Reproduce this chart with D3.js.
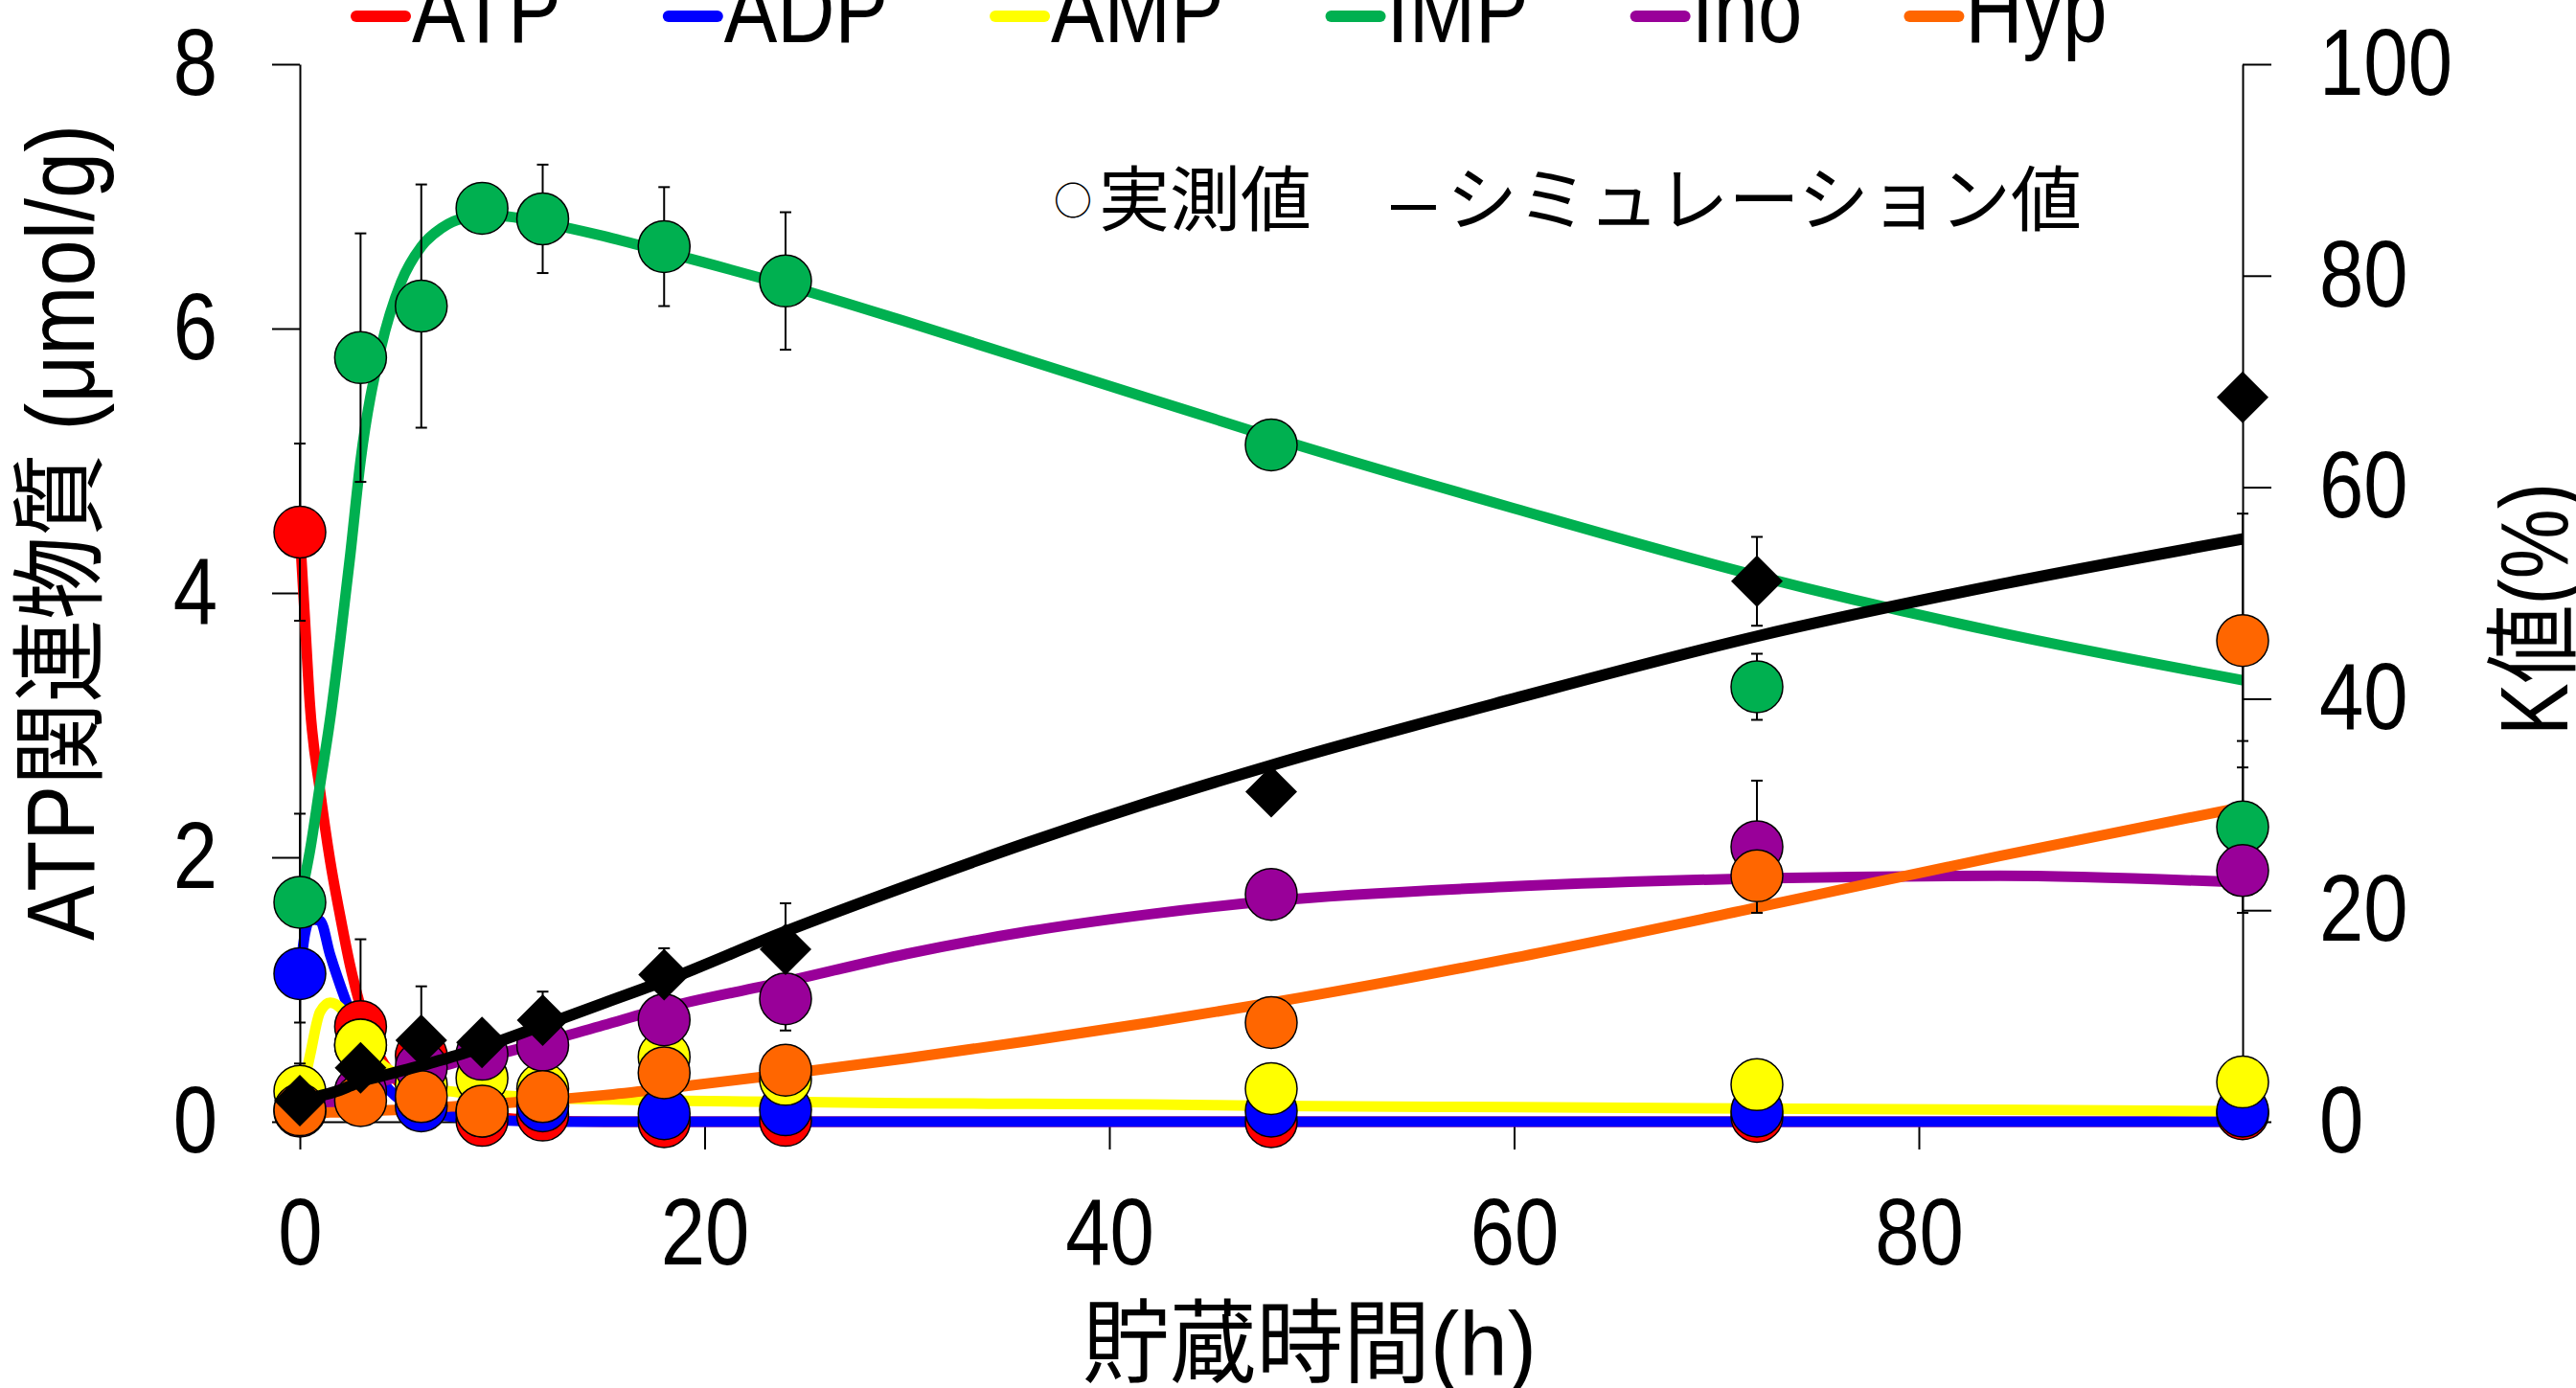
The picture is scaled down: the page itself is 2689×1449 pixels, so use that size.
<!DOCTYPE html>
<html><head><meta charset="utf-8">
<script src="https://cdn.jsdelivr.net/npm/d3@7"></script>
<style>
html,body{margin:0;padding:0;background:#fff;}
svg{display:block;background:#fff;}
</style></head><body>
<svg id="chart" width="2689" height="1449"></svg>
<script>
// ---------- data ----------
const seriesNames  = ["ATP","ADP","AMP","IMP","Ino","Hyp"];
const seriesColors = ["#FF0000","#0000FF","#FFFF00","#00B050","#990099","#FF6600"];

const measuredTimes = [0,3,6,9,12,18,24,48,72,96];
const atpMeasured = [4.46,0.72,0.50,0.01,0.05,0.00,0.01,0.00,0.04,0.06];
const adpMeasured = [1.12,0.58,0.12,0.08,0.12,0.06,0.09,0.08,0.08,0.08];
const ampMeasured = [0.23,0.58,0.28,0.33,0.25,0.49,0.32,0.25,0.28,0.30];
const impMeasured = [1.66,5.78,6.17,6.91,6.83,6.62,6.36,5.12,3.29,2.23];
const inoMeasured = [0.08,0.23,0.41,0.51,0.58,0.77,0.93,1.72,2.08,1.90];
const hypMeasured = [0.09,0.16,0.19,0.08,0.19,0.37,0.39,0.75,1.86,3.64];
const kMeasured   = [2.0,5.1,7.7,7.5,9.6,13.9,16.3,31.2,51.1,68.5];

const atpErr = [0.67,0.66,null,null,null,null,null,null,null,null];
const adpErr = [0.37,null,null,null,null,null,null,null,null,null];
const ampErr = [0.21,null,null,null,null,null,null,null,null,null];
const impErr = [0.67,0.94,0.92,null,0.41,0.45,0.52,null,0.25,0.65];
const inoErr = [null,null,null,null,null,null,0.24,null,0.50,null];
const hypErr = [null,null,null,null,null,null,null,null,null,0.96];
const kErr   = [null,null,5.1,null,2.7,2.5,4.35,null,4.2,null];

const simTimes = [0,0.25,0.5,1,1.5,2,2.5,3,4,5,6,7,8,10,12,15,18,24,30,36,42,48,60,72,84,96];
const atpSim = [4.46,3.8,3.15,2.5,1.97,1.55,1.17,0.87,0.48,0.28,0.16,0.10,0.06,0.03,0.01,0.0,0,0,0,0,0,0,0,0,0,0];
const adpSim = [1.12,1.42,1.53,1.52,1.26,1.03,0.82,0.62,0.32,0.16,0.08,0.05,0.03,0.01,0.0,0,0,0,0,0,0,0,0,0,0,0];
const ampSim = [0.23,0.33,0.50,0.83,0.90,0.86,0.74,0.62,0.44,0.34,0.28,0.24,0.22,0.20,0.18,0.17,0.16,0.15,0.14,0.135,0.13,0.12,0.11,0.10,0.09,0.08];
const impSim = [1.66,1.85,2.05,2.55,3.05,3.65,4.3,5.0,5.85,6.35,6.62,6.76,6.83,6.85,6.80,6.70,6.58,6.33,6.05,5.76,5.47,5.18,4.64,4.13,3.70,3.34];
const inoSim = [0.08,0.09,0.10,0.12,0.14,0.17,0.20,0.24,0.30,0.35,0.39,0.42,0.46,0.52,0.60,0.73,0.86,1.06,1.27,1.44,1.57,1.67,1.78,1.84,1.86,1.81];
const hypSim = [0.06,0.06,0.06,0.065,0.07,0.07,0.075,0.08,0.085,0.09,0.10,0.11,0.12,0.14,0.16,0.20,0.25,0.36,0.48,0.61,0.75,0.90,1.24,1.62,2.01,2.38];
const kSim   = [2.0,2.1,2.2,2.45,2.7,3.0,3.4,3.8,4.3,4.8,5.3,5.85,6.4,7.7,9.1,11.2,13.3,18.0,22.3,26.4,30.2,33.7,40.0,45.9,50.8,55.1];

const xTicks  = [0,20,40,60,80];
const yTicks  = [0,2,4,6,8];
const y2Ticks = [0,20,40,60,80,100];
const xTitle  = "貯蔵時間(h)";
const yTitle  = "ATP関連物質 (μmol/g)";
const y2Title = "K値(%)";
const noteMeasured = "実測値";
const noteMarkMeasured = "○";
const noteSimDash = "–";
const noteSim = "シミュレーション値";

// ---------- setup ----------
const LATIN = "'Liberation Sans', Arial, 'Noto Sans CJK JP', sans-serif";
const CJK = "'Noto Sans CJK JP', 'Liberation Sans', sans-serif";
const SX = 0.85;
const svg = d3.select("#chart");
svg.append("rect").attr("width",2689).attr("height",1449).attr("fill","#fff");

const x  = d3.scaleLinear().domain([0,96]).range([313,2341]);
const y  = d3.scaleLinear().domain([0,8]).range([1171,67]);
const y2 = d3.scaleLinear().domain([0,100]).range([1171,67]);

function styleAxis(g){
  g.select(".domain").attr("stroke","#000").attr("stroke-width",2);
  g.selectAll(".tick line").attr("stroke","#000").attr("stroke-width",2);
  g.selectAll(".tick text").attr("font-size",98).attr("font-family",LATIN).attr("fill","#000");
}

// x axis
const gx = svg.append("g").attr("transform",`translate(0,${y(0)})`)
  .call(d3.axisBottom(x).tickValues(xTicks).tickSize(29).tickSizeOuter(0).tickFormat(d3.format("d")));
styleAxis(gx);
gx.selectAll(".tick text").attr("y",79).attr("transform",`scale(${SX},1)`);

// left axis
const gy = svg.append("g").attr("transform",`translate(${x(0)},0)`)
  .call(d3.axisLeft(y).tickValues(yTicks).tickSize(29).tickSizeOuter(0).tickFormat(d3.format("d")));
styleAxis(gy);
gy.selectAll(".tick text").attr("x",-86/SX).attr("transform",`scale(${SX},1)`);

// right axis
const gy2 = svg.append("g").attr("transform",`translate(${x(96)},0)`)
  .call(d3.axisRight(y2).tickValues(y2Ticks).tickSize(30).tickSizeOuter(0).tickFormat(d3.format("d")));
styleAxis(gy2);
gy2.selectAll(".tick text").attr("x",80/SX).attr("transform",`scale(${SX},1)`);

// ---------- titles ----------
svg.append("text").attr("transform","translate(98,556) rotate(-90)")
  .attr("text-anchor","middle").attr("font-family",LATIN).attr("font-size",100)
  .attr("textLength",852).attr("lengthAdjust","spacingAndGlyphs").text(yTitle);
svg.append("text").attr("transform","translate(1367,1436)")
  .attr("text-anchor","middle").attr("font-family",LATIN).attr("font-size",95)
  .attr("textLength",474).attr("lengthAdjust","spacingAndGlyphs").text(xTitle);
svg.append("text").attr("transform","translate(2680,636) rotate(-90)")
  .attr("text-anchor","middle").attr("font-family",LATIN).attr("font-size",100)
  .attr("textLength",264).attr("lengthAdjust","spacingAndGlyphs").text(y2Title);

// annotation
svg.append("text").attr("x",1100).attr("y",224).attr("font-family",CJK).attr("font-size",40).text(noteMarkMeasured);
svg.append("text").attr("x",1147).attr("y",235).attr("font-family",CJK).attr("font-size",74).text(noteMeasured);
svg.append("text").attr("x",1452).attr("y",235).attr("font-family",LATIN).attr("font-size",74)
  .attr("textLength",47).attr("lengthAdjust","spacingAndGlyphs").text(noteSimDash);
svg.append("text").attr("x",1510).attr("y",235).attr("font-family",CJK).attr("font-size",74).text(noteSim);

// ---------- legend ----------
let lx = 366;
seriesNames.forEach((name,i)=>{
  svg.append("line").attr("x1",lx+6).attr("x2",lx+57).attr("y1",17).attr("y2",17)
    .attr("stroke",seriesColors[i]).attr("stroke-width",12).attr("stroke-linecap","round");
  const t = svg.append("text").attr("transform",`translate(${lx+64},44) scale(${SX},1)`)
    .attr("font-family",LATIN).attr("font-size",98).attr("fill","#000").text(name);
  const w = t.node().getComputedTextLength()*SX;
  lx = lx + 64 + w + 106;
});

// ---------- simulation lines ----------
const simSeries = [atpSim,adpSim,ampSim,impSim,inoSim,hypSim];
const lineL = d3.line().x((d,i)=>x(simTimes[i])).y(d=>y(d)).curve(d3.curveMonotoneX);
simSeries.forEach((vals,i)=>{
  svg.append("path").attr("d",lineL(vals)).attr("fill","none")
    .attr("stroke",seriesColors[i]).attr("stroke-width",11).attr("stroke-linejoin","round");
});

// ---------- error bars ----------
function errorBars(vals, errs, scale){
  vals.forEach((v,i)=>{
    const e = errs[i];
    if(e==null) return;
    const cx = x(measuredTimes[i]);
    const y1 = scale(v+e), y0 = scale(Math.max(v-e, scale.domain()[0]));
    const g = svg.append("g").attr("stroke","#000").attr("stroke-width",2);
    g.append("line").attr("x1",cx).attr("x2",cx).attr("y1",y1).attr("y2",y0);
    g.append("line").attr("x1",cx-6).attr("x2",cx+6).attr("y1",y1).attr("y2",y1);
    g.append("line").attr("x1",cx-6).attr("x2",cx+6).attr("y1",y0).attr("y2",y0);
  });
}
const measSeries = [atpMeasured,adpMeasured,ampMeasured,impMeasured,inoMeasured,hypMeasured];
const errSeries = [atpErr,adpErr,ampErr,impErr,inoErr,hypErr];
measSeries.forEach((vals,i)=>errorBars(vals, errSeries[i], y));
errorBars(kMeasured, kErr, y2);

// ---------- measured circles ----------
measSeries.forEach((vals,i)=>{
  svg.append("g").selectAll("circle").data(vals).join("circle")
    .attr("cx",(d,j)=>x(measuredTimes[j])).attr("cy",d=>y(d)).attr("r",27)
    .attr("fill",seriesColors[i]).attr("stroke","#000").attr("stroke-width",1.5);
});

// ---------- K value ----------
const lineK = d3.line().x((d,i)=>x(simTimes[i])).y(d=>y2(d)).curve(d3.curveMonotoneX);
svg.append("path").attr("d",lineK(kSim)).attr("fill","none").attr("stroke","#000")
  .attr("stroke-width",12).attr("stroke-linejoin","round");
const diamond = d3.symbol().type(d3.symbolSquare).size(27*27*2);
svg.append("g").selectAll("path").data(kMeasured).join("path")
  .attr("d",diamond)
  .attr("transform",(d,j)=>`translate(${x(measuredTimes[j])},${y2(d)}) rotate(45)`)
  .attr("fill","#000");
</script>
</body></html>
